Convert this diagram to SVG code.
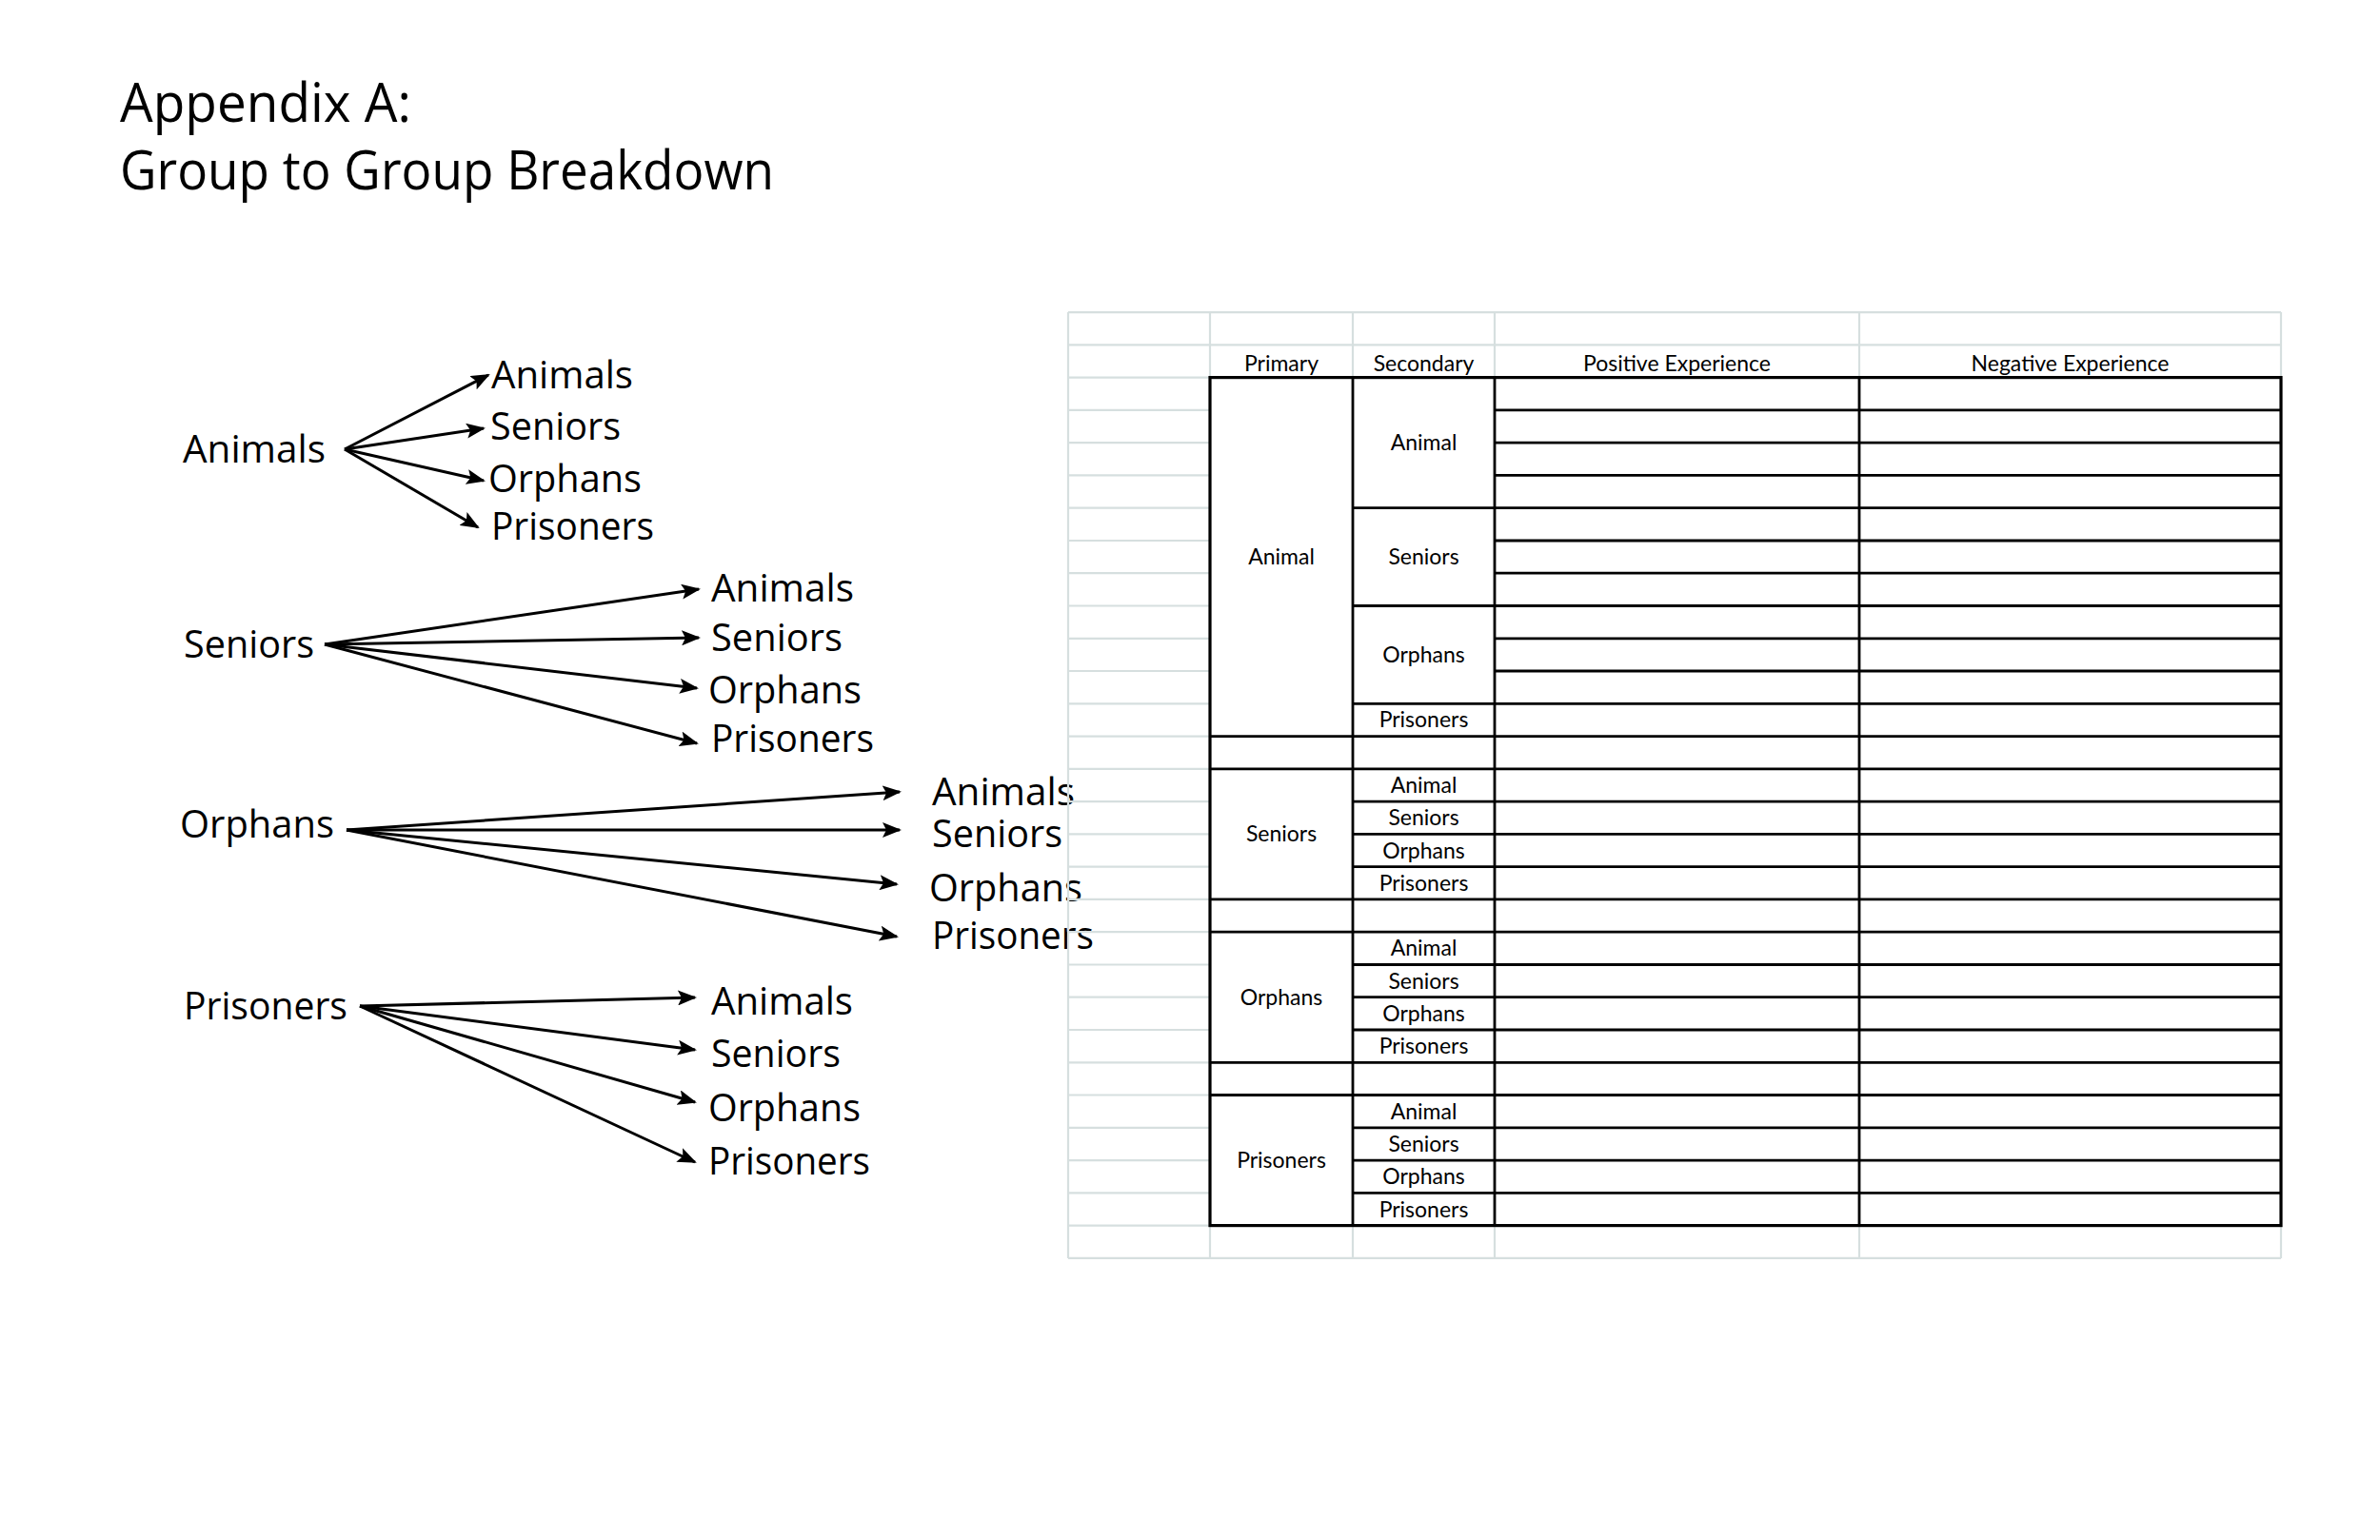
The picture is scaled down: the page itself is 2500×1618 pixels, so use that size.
<svg xmlns="http://www.w3.org/2000/svg" width="2500" height="1618" viewBox="0 0 2500 1618">
<style>
.title{font-family:"Open Sans","Liberation Sans",sans-serif;font-size:57px;fill:#000}
.lbl{font-family:"Open Sans","Liberation Sans",sans-serif;font-size:41px;fill:#000}
.cell{font-family:Lato,"Liberation Sans",sans-serif;font-size:23px;fill:#000;text-anchor:middle}
.arr{stroke:#000;stroke-width:3;fill:none;marker-end:url(#ah)}
.g{stroke:#d6dfdf;stroke-width:2.2;fill:none}
.b{stroke:#000;stroke-width:2.8;fill:none}
.bo{stroke:#000;stroke-width:3.2;fill:none}
</style>
<defs>
<marker id="ah" viewBox="0 0 20 16" refX="18" refY="8" markerWidth="20" markerHeight="16" markerUnits="userSpaceOnUse" orient="auto">
<path d="M0,0 L20,8 L0,16 L4,8 z" fill="#000"/>
</marker>
</defs>
<rect width="2500" height="1618" fill="#fff"/>
<g id="title">
<text class="title" x="126" y="128" textLength="306" lengthAdjust="spacingAndGlyphs">Appendix A:</text>
<text class="title" x="126" y="199" textLength="687" lengthAdjust="spacingAndGlyphs">Group to Group Breakdown</text>
</g>
<g id="connectors">
<line class="arr" x1="362" y1="472" x2="513" y2="394"/>
<line class="arr" x1="362" y1="472" x2="508" y2="450"/>
<line class="arr" x1="362" y1="472" x2="508" y2="505"/>
<line class="arr" x1="362" y1="472" x2="502" y2="554"/>
<line class="arr" x1="341" y1="677" x2="734" y2="619"/>
<line class="arr" x1="341" y1="677" x2="734" y2="670"/>
<line class="arr" x1="341" y1="677" x2="732" y2="723"/>
<line class="arr" x1="341" y1="677" x2="732" y2="781"/>
<line class="arr" x1="364" y1="872" x2="945" y2="832"/>
<line class="arr" x1="364" y1="872" x2="945" y2="872"/>
<line class="arr" x1="364" y1="872" x2="942" y2="929"/>
<line class="arr" x1="364" y1="872" x2="942" y2="984"/>
<line class="arr" x1="378" y1="1057" x2="730" y2="1048"/>
<line class="arr" x1="378" y1="1057" x2="730" y2="1103"/>
<line class="arr" x1="378" y1="1057" x2="730" y2="1158"/>
<line class="arr" x1="378" y1="1057" x2="730" y2="1221"/>
</g>
<g id="src-animals"><text class="lbl" x="192" y="486" textLength="150" lengthAdjust="spacingAndGlyphs">Animals</text></g>
<g id="src-seniors"><text class="lbl" x="193" y="691" textLength="137" lengthAdjust="spacingAndGlyphs">Seniors</text></g>
<g id="src-orphans"><text class="lbl" x="189" y="880" textLength="162" lengthAdjust="spacingAndGlyphs">Orphans</text></g>
<g id="src-prisoners"><text class="lbl" x="193" y="1071" textLength="172" lengthAdjust="spacingAndGlyphs">Prisoners</text></g>
<g id="t1-animals"><text class="lbl" x="516" y="408" textLength="149" lengthAdjust="spacingAndGlyphs">Animals</text></g>
<g id="t1-seniors"><text class="lbl" x="515" y="462" textLength="137" lengthAdjust="spacingAndGlyphs">Seniors</text></g>
<g id="t1-orphans"><text class="lbl" x="513" y="517" textLength="161" lengthAdjust="spacingAndGlyphs">Orphans</text></g>
<g id="t1-prisoners"><text class="lbl" x="516" y="567" textLength="171" lengthAdjust="spacingAndGlyphs">Prisoners</text></g>
<g id="t2-animals"><text class="lbl" x="747" y="632" textLength="150" lengthAdjust="spacingAndGlyphs">Animals</text></g>
<g id="t2-seniors"><text class="lbl" x="747" y="684" textLength="138" lengthAdjust="spacingAndGlyphs">Seniors</text></g>
<g id="t2-orphans"><text class="lbl" x="744" y="739" textLength="161" lengthAdjust="spacingAndGlyphs">Orphans</text></g>
<g id="t2-prisoners"><text class="lbl" x="747" y="790" textLength="171" lengthAdjust="spacingAndGlyphs">Prisoners</text></g>
<g id="t3-animals"><text class="lbl" x="979" y="846" textLength="150" lengthAdjust="spacingAndGlyphs">Animals</text></g>
<g id="t3-seniors"><text class="lbl" x="979" y="890" textLength="137" lengthAdjust="spacingAndGlyphs">Seniors</text></g>
<g id="t3-orphans"><text class="lbl" x="976" y="947" textLength="161" lengthAdjust="spacingAndGlyphs">Orphans</text></g>
<g id="t3-prisoners"><text class="lbl" x="979" y="997" textLength="170" lengthAdjust="spacingAndGlyphs">Prisoners</text></g>
<g id="t4-animals"><text class="lbl" x="747" y="1066" textLength="149" lengthAdjust="spacingAndGlyphs">Animals</text></g>
<g id="t4-seniors"><text class="lbl" x="747" y="1121" textLength="136" lengthAdjust="spacingAndGlyphs">Seniors</text></g>
<g id="t4-orphans"><text class="lbl" x="744" y="1178" textLength="160" lengthAdjust="spacingAndGlyphs">Orphans</text></g>
<g id="t4-prisoners"><text class="lbl" x="744" y="1234" textLength="170" lengthAdjust="spacingAndGlyphs">Prisoners</text></g>
<g id="table">
<g id="grid-gray">
<path class="g" d="M1122,328.1H2396 M1122,362.3H2396 M1122,1321.9H2396 M1122,328.1V1321.9
M1271,328.1V396.6 M1421,328.1V396.6 M1570,328.1V396.6 M1953,328.1V396.6 M2396,328.1V396.6
M1271,1287.6V1321.9 M1421,1287.6V1321.9 M1570,1287.6V1321.9 M1953,1287.6V1321.9 M2396,1287.6V1321.9
M1122,396.6H1271 M1122,430.9H1271 M1122,465.1H1271 M1122,499.4H1271 M1122,533.7H1271 M1122,568.0H1271 M1122,602.2H1271 M1122,636.5H1271 M1122,670.8H1271 M1122,705.0H1271 M1122,739.3H1271 M1122,773.6H1271 M1122,807.8H1271 M1122,842.1H1271 M1122,876.4H1271 M1122,910.7H1271 M1122,944.9H1271 M1122,979.2H1271 M1122,1013.5H1271 M1122,1047.7H1271 M1122,1082.0H1271 M1122,1116.3H1271 M1122,1150.5H1271 M1122,1184.8H1271 M1122,1219.1H1271 M1122,1253.4H1271 M1122,1287.6H1271"/>
</g>
<g id="grid-black">
<path class="b" d="M1421,396.6V1287.6 M1570,396.6V1287.6 M1953,396.6V1287.6
M1570,430.9H2396 M1570,465.1H2396 M1570,499.4H2396 M1570,568.0H2396 M1570,602.2H2396 M1570,670.8H2396 M1570,705.0H2396
M1421,533.7H2396 M1421,636.5H2396 M1421,739.3H2396 M1421,842.1H2396 M1421,876.4H2396 M1421,910.7H2396 M1421,1013.5H2396 M1421,1047.7H2396 M1421,1082.0H2396 M1421,1184.8H2396 M1421,1219.1H2396 M1421,1253.4H2396
M1271,773.6H2396 M1271,807.8H2396 M1271,944.9H2396 M1271,979.2H2396 M1271,1116.3H2396 M1271,1150.5H2396"/>
<rect class="bo" x="1271" y="396.6" width="1125" height="891"/>
</g>
<g id="headers">
<text class="cell" x="1346" y="390">Primary</text>
<text class="cell" x="1495.5" y="390">Secondary</text>
<text class="cell" x="1761.5" y="390">Positive Experience</text>
<text class="cell" x="2174.5" y="390">Negative Experience</text>
</g>
<g id="primary-animal">
<text class="cell" x="1346" y="593">Animal</text>
<text class="cell" x="1495.5" y="473">Animal</text>
<text class="cell" x="1495.5" y="593">Seniors</text>
<text class="cell" x="1495.5" y="696">Orphans</text>
<text class="cell" x="1495.5" y="764">Prisoners</text>
</g>
<g id="primary-seniors">
<text class="cell" x="1346" y="884">Seniors</text>
<text class="cell" x="1495.5" y="833">Animal</text>
<text class="cell" x="1495.5" y="867">Seniors</text>
<text class="cell" x="1495.5" y="901.5">Orphans</text>
<text class="cell" x="1495.5" y="936">Prisoners</text>
</g>
<g id="primary-orphans">
<text class="cell" x="1346" y="1056">Orphans</text>
<text class="cell" x="1495.5" y="1004">Animal</text>
<text class="cell" x="1495.5" y="1039">Seniors</text>
<text class="cell" x="1495.5" y="1073">Orphans</text>
<text class="cell" x="1495.5" y="1107">Prisoners</text>
</g>
<g id="primary-prisoners">
<text class="cell" x="1346" y="1227">Prisoners</text>
<text class="cell" x="1495.5" y="1176">Animal</text>
<text class="cell" x="1495.5" y="1210">Seniors</text>
<text class="cell" x="1495.5" y="1244">Orphans</text>
<text class="cell" x="1495.5" y="1278.5">Prisoners</text>
</g>
</g>
</svg>
